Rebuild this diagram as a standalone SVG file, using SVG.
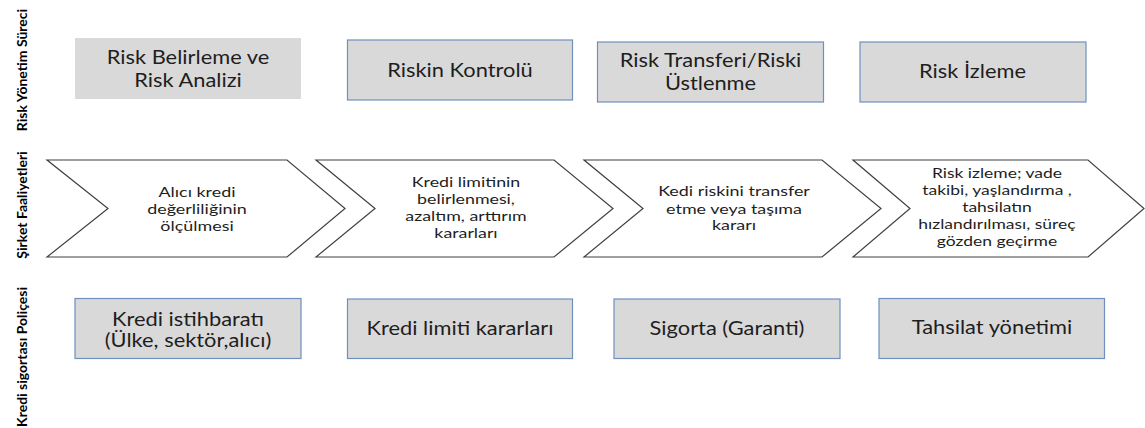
<svg xmlns="http://www.w3.org/2000/svg" width="1145" height="428" viewBox="0 0 1145 428">
  <style>
    .box { fill: #d9d9d9; stroke: #6f8fbf; stroke-width: 1.2; }
    .box0 { fill: #d9d9d9; stroke: none; }
    .chev { fill: #ffffff; stroke: #404040; stroke-width: 1.2; stroke-linejoin: miter; }
    .bt { font-family: Lato, "Open Sans", "Liberation Sans", sans-serif; font-size: 19px; fill: #1e1e1e; text-anchor: middle; }
    .ct { font-family: Lato, "Open Sans", "Liberation Sans", sans-serif; font-size: 14px; fill: #1e1e1e; text-anchor: middle; }
    .lane { font-family: Lato, "Liberation Sans", sans-serif; font-size: 14px; font-weight: bold; fill: #000000; text-anchor: middle; }
  </style>
  <rect width="1145" height="428" fill="#ffffff"/>

  <!-- lane labels -->
  <g id="lane-risk">
    <text class="lane" transform="translate(27,70) rotate(-90)">Risk Yönetim Süreci</text>
  </g>
  <g id="lane-sirket">
    <text class="lane" transform="translate(27,205) rotate(-90)">Şirket Faaliyetleri</text>
  </g>
  <g id="lane-kredi">
    <text class="lane" transform="translate(27,357) rotate(-90)">Kredi sigortası Poliçesi</text>
  </g>

  <!-- top row -->
  <g id="top1">
    <rect class="box0" x="75" y="38" width="226" height="61"/>
    <g transform="translate(188,0) scale(1.15,1)">
      <text class="bt" x="0" y="64">Risk Belirleme ve</text>
      <text class="bt" x="0" y="87">Risk Analizi</text>
    </g>
  </g>
  <g id="top2">
    <rect class="box" x="347.5" y="40" width="225" height="60"/>
    <g transform="translate(460,0) scale(1.15,1)">
      <text class="bt" x="0" y="77">Riskin Kontrolü</text>
    </g>
  </g>
  <g id="top3">
    <rect class="box" x="597.5" y="42" width="226" height="60"/>
    <g transform="translate(710.5,0) scale(1.15,1)">
      <text class="bt" x="0" y="67">Risk Transferi/Riski</text>
      <text class="bt" x="0" y="90">Üstlenme</text>
    </g>
  </g>
  <g id="top4">
    <rect class="box" x="860" y="42" width="226" height="60"/>
    <g transform="translate(972.5,0) scale(1.15,1)">
      <text class="bt" x="0" y="78">Risk İzleme</text>
    </g>
  </g>

  <!-- chevrons -->
  <g id="chev1">
    <polygon class="chev" points="47,160 287,160 345,208.5 287,257 47,257 108,208.5"/>
    <g transform="translate(197,0) scale(1.28,1)">
      <text class="ct" x="0" y="197">Alıcı kredi</text>
      <text class="ct" x="0" y="214.5">değerliliğinin</text>
      <text class="ct" x="0" y="231.5">ölçülmesi</text>
    </g>
  </g>
  <g id="chev2">
    <polygon class="chev" points="316,160 554,160 613,208.5 554,257 316,257 375,208.5"/>
    <g transform="translate(466,0) scale(1.27,1)">
      <text class="ct" x="0" y="187">Kredi limitinin</text>
      <text class="ct" x="0" y="204">belirlenmesi,</text>
      <text class="ct" x="0" y="221.5">azaltım, arttırım</text>
      <text class="ct" x="0" y="238.5">kararları</text>
    </g>
  </g>
  <g id="chev3">
    <polygon class="chev" points="584,160 822,160 881,208.5 822,257 584,257 643,208.5"/>
    <g transform="translate(734,0) scale(1.28,1)">
      <text class="ct" x="0" y="196.5">Kedi riskini transfer</text>
      <text class="ct" x="0" y="214">etme veya taşıma</text>
      <text class="ct" x="0" y="230.5">kararı</text>
    </g>
  </g>
  <g id="chev4">
    <polygon class="chev" points="853,160 1088,160 1144,208.5 1088,257 853,257 910,208.5"/>
    <g transform="translate(997,0) scale(1.25,1)">
      <text class="ct" x="0" y="178">Risk izleme; vade</text>
      <text class="ct" x="0" y="195">takibi, yaşlandırma ,</text>
      <text class="ct" x="0" y="212">tahsilatın</text>
      <text class="ct" x="0" y="229">hızlandırılması, süreç</text>
      <text class="ct" x="0" y="246">gözden geçirme</text>
    </g>
  </g>

  <!-- bottom row -->
  <g id="bot1">
    <rect class="box" x="75" y="298.5" width="226" height="60"/>
    <g transform="translate(188,0) scale(1.15,1)">
      <text class="bt" x="0" y="326.5">Kredi istihbaratı</text>
      <text class="bt" x="0" y="347">(Ülke, sektör,alıcı)</text>
    </g>
  </g>
  <g id="bot2">
    <rect class="box" x="347.5" y="299" width="225" height="59.5"/>
    <g transform="translate(460,0) scale(1.15,1)">
      <text class="bt" x="0" y="335">Kredi limiti kararları</text>
    </g>
  </g>
  <g id="bot3">
    <rect class="box" x="614" y="299" width="226" height="59.5"/>
    <g transform="translate(727,0) scale(1.15,1)">
      <text class="bt" x="0" y="335">Sigorta (Garanti)</text>
    </g>
  </g>
  <g id="bot4">
    <rect class="box" x="879" y="298.5" width="225.5" height="60"/>
    <g transform="translate(992,0) scale(1.15,1)">
      <text class="bt" x="0" y="334.5">Tahsilat yönetimi</text>
    </g>
  </g>

  <g id="connectors"></g>
</svg>
